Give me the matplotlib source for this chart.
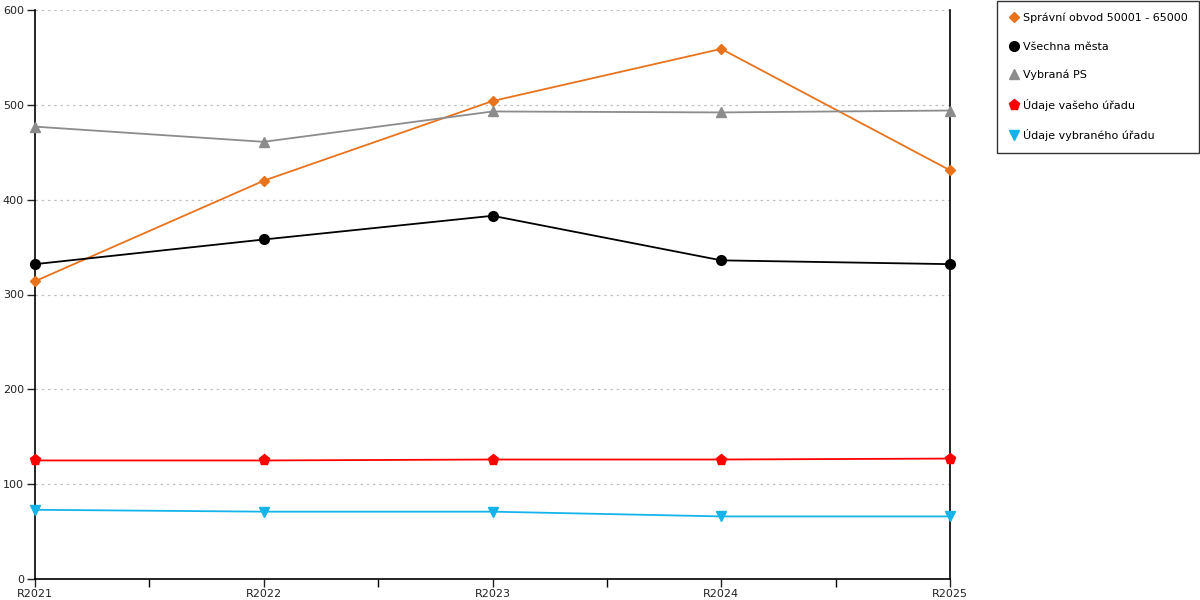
import matplotlib
matplotlib.use("Agg")
import matplotlib.pyplot as plt
import numpy as np

years = ["R2021", "R2022", "R2023", "R2024", "R2025"]
spravni = [314, 420, 504, 559, 431]
vsechna = [332, 358, 383, 336, 332]
vybrana_ps = [477, 461, 493, 492, 494]
vaseho = [125, 125, 126, 126, 127]
vybraneho = [73, 71, 71, 66, 66]

series = [
    ("Správní obvod 50001 - 65000", spravni, "#e8731c", "D", 5.5),
    ("Všechna města", vsechna, "#000000", "o", 7),
    ("Vybraná PS", vybrana_ps, "#8c8c8c", "^", 7.5),
    ("Údaje vašeho úřadu", vaseho, "#ff0000", "p", 8),
    ("Údaje vybraného úřadu", vybraneho, "#14b4eb", "v", 7.5),
]

plt.rcParams['font.family'] = ['DejaVu Sans']
fig = plt.figure(figsize=(12, 6), dpi=100)
ax = fig.add_axes([35/1200, 21/600, 915/1200, 569/600])

x = np.arange(len(years))
for name, vals, col, mk, ms in series:
    ax.plot(x, vals, color=col, marker=mk, markersize=ms, linewidth=1.3,
            label=name, clip_on=False, zorder=3)

ax.set_xlim(0, len(years) - 1)
ax.set_ylim(0, 600)
ax.set_xticks(x)
ax.set_xticklabels(years)
ax.set_xticks(x[:-1] + 0.5, minor=True)
ax.set_yticks(range(0, 601, 100))
ax.tick_params(axis="both", labelsize=8, colors="#222222", length=6, width=1)
ax.tick_params(axis="x", which="minor", length=6, width=1)
ax.tick_params(axis="y", pad=2)
ax.tick_params(axis="x", pad=1)
ax.yaxis.grid(True, linestyle=(0, (2, 3)), color="#c0c0c0", linewidth=0.9)
ax.set_axisbelow(True)
ax.spines["top"].set_visible(False)
for s in ["left", "bottom", "right"]:
    ax.spines[s].set_linewidth(1.2)
    ax.spines[s].set_color("black")

leg = fig.legend(loc="upper left", bbox_to_anchor=(997/1200, 1 - 1/600),
                 frameon=True, fancybox=False, edgecolor="black", fontsize=8.0,
                 handlelength=0.9, handletextpad=0.35, labelspacing=1.65,
                 borderpad=1.05, borderaxespad=0)
leg.get_frame().set_linewidth(1.0)
for h in leg.get_lines():
    h.set_linestyle("none")

fig.savefig("out.png", dpi=100)
